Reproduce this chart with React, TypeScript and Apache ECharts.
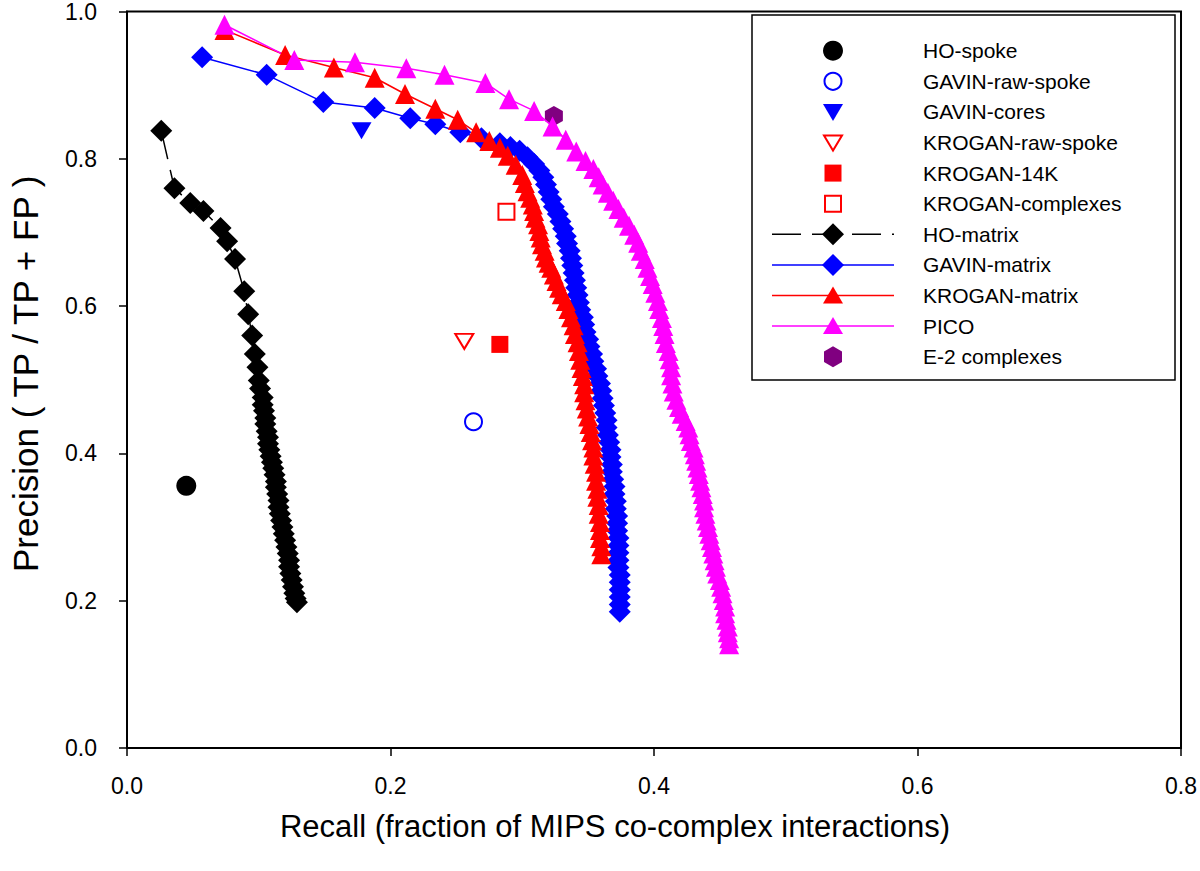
import React, { useEffect, useRef } from "react";
import * as echarts from "echarts";

// ---------- data (recall, precision) ----------
const hoSpoke: [number, number][] = [[0.045, 0.356]];
const gavinRawSpoke: [number, number][] = [[0.263, 0.443]];
const gavinCores: [number, number][] = [[0.178, 0.838]];
const kroganRawSpoke: [number, number][] = [[0.256, 0.552]];
const krogan14K: [number, number][] = [[0.283, 0.548]];
const kroganComplexes: [number, number][] = [[0.288, 0.728]];
const e2Complexes: [number, number][] = [[0.324, 0.858]];

const hoMatrix: [number, number][] = [
  [0.026, 0.838], [0.036, 0.760], [0.048, 0.740], [0.058, 0.729], [0.071, 0.706], [0.076, 0.688],
  [0.082, 0.664], [0.089, 0.620], [0.092, 0.589], [0.095, 0.560], [0.097, 0.535], [0.099, 0.517],
  [0.100, 0.499], [0.101, 0.488], [0.103, 0.476], [0.103, 0.466], [0.104, 0.458], [0.105, 0.448],
  [0.105, 0.440], [0.106, 0.430], [0.107, 0.422], [0.107, 0.413], [0.108, 0.405], [0.109, 0.396],
  [0.110, 0.388], [0.111, 0.380], [0.112, 0.371], [0.113, 0.362], [0.113, 0.354], [0.114, 0.345],
  [0.115, 0.336], [0.115, 0.327], [0.116, 0.318], [0.117, 0.309], [0.118, 0.300], [0.119, 0.291],
  [0.120, 0.282], [0.121, 0.273], [0.122, 0.264], [0.123, 0.255], [0.123, 0.246], [0.124, 0.237],
  [0.125, 0.228], [0.126, 0.219], [0.127, 0.210], [0.128, 0.203], [0.129, 0.198],
];

const gavinMatrix: [number, number][] = [
  [0.057, 0.938], [0.106, 0.914], [0.149, 0.877], [0.188, 0.869], [0.215, 0.855], [0.234, 0.847],
  [0.253, 0.836], [0.269, 0.828], [0.283, 0.821], [0.291, 0.816], [0.298, 0.811], [0.304, 0.802],
  [0.309, 0.793], [0.313, 0.784], [0.316, 0.775], [0.318, 0.765], [0.320, 0.755], [0.322, 0.745],
  [0.324, 0.735], [0.327, 0.725], [0.329, 0.715], [0.331, 0.705], [0.333, 0.695], [0.334, 0.685],
  [0.336, 0.675], [0.337, 0.665], [0.338, 0.655], [0.339, 0.645], [0.340, 0.635], [0.341, 0.625],
  [0.342, 0.615], [0.343, 0.605], [0.344, 0.595], [0.346, 0.585], [0.347, 0.575], [0.348, 0.565],
  [0.350, 0.555], [0.351, 0.545], [0.353, 0.535], [0.354, 0.525], [0.356, 0.515], [0.357, 0.505],
  [0.359, 0.495], [0.360, 0.485], [0.361, 0.475], [0.362, 0.465], [0.363, 0.455], [0.364, 0.445],
  [0.364, 0.435], [0.365, 0.425], [0.366, 0.415], [0.367, 0.405], [0.367, 0.395], [0.368, 0.385],
  [0.368, 0.375], [0.369, 0.365], [0.370, 0.355], [0.370, 0.345], [0.371, 0.335], [0.371, 0.325],
  [0.372, 0.315], [0.372, 0.305], [0.372, 0.295], [0.373, 0.285], [0.373, 0.275], [0.373, 0.265],
  [0.373, 0.255], [0.373, 0.245], [0.374, 0.235], [0.374, 0.225], [0.374, 0.215], [0.374, 0.205],
  [0.374, 0.195], [0.374, 0.185],
];

const kroganMatrix: [number, number][] = [
  [0.074, 0.975], [0.120, 0.941], [0.157, 0.924], [0.188, 0.910], [0.211, 0.888], [0.234, 0.868],
  [0.251, 0.853], [0.265, 0.836], [0.275, 0.824], [0.283, 0.815], [0.289, 0.804], [0.295, 0.792],
  [0.300, 0.778], [0.302, 0.767], [0.304, 0.756], [0.306, 0.747], [0.308, 0.738], [0.309, 0.729],
  [0.310, 0.720], [0.312, 0.711], [0.313, 0.702], [0.314, 0.693], [0.315, 0.684], [0.317, 0.675],
  [0.318, 0.666], [0.320, 0.659], [0.322, 0.652], [0.324, 0.643], [0.326, 0.634], [0.328, 0.625],
  [0.330, 0.616], [0.333, 0.607], [0.335, 0.596], [0.337, 0.585], [0.339, 0.574], [0.340, 0.562],
  [0.342, 0.551], [0.343, 0.539], [0.344, 0.527], [0.345, 0.516], [0.346, 0.505], [0.347, 0.494],
  [0.347, 0.483], [0.348, 0.472], [0.349, 0.461], [0.350, 0.450], [0.351, 0.440], [0.352, 0.429],
  [0.353, 0.418], [0.354, 0.408], [0.354, 0.397], [0.355, 0.386], [0.356, 0.375], [0.356, 0.363],
  [0.357, 0.352], [0.357, 0.341], [0.358, 0.330], [0.358, 0.318], [0.359, 0.307], [0.359, 0.296],
  [0.359, 0.285], [0.360, 0.274], [0.360, 0.263],
];

const pico: [number, number][] = [
  [0.074, 0.982], [0.127, 0.934], [0.173, 0.931], [0.212, 0.923], [0.241, 0.914], [0.272, 0.903],
  [0.290, 0.881], [0.309, 0.865], [0.323, 0.844], [0.333, 0.826], [0.341, 0.810], [0.348, 0.797],
  [0.354, 0.786], [0.358, 0.775], [0.361, 0.765], [0.365, 0.754], [0.369, 0.743], [0.373, 0.732],
  [0.377, 0.720], [0.381, 0.709], [0.385, 0.697], [0.388, 0.686], [0.390, 0.675], [0.393, 0.664],
  [0.395, 0.652], [0.397, 0.641], [0.399, 0.630], [0.401, 0.618], [0.403, 0.607], [0.404, 0.596],
  [0.406, 0.584], [0.407, 0.573], [0.408, 0.562], [0.409, 0.550], [0.411, 0.539], [0.412, 0.528],
  [0.413, 0.517], [0.413, 0.506], [0.414, 0.495], [0.415, 0.484], [0.417, 0.473], [0.419, 0.463],
  [0.421, 0.454], [0.424, 0.444], [0.426, 0.435], [0.427, 0.426], [0.428, 0.417], [0.430, 0.408],
  [0.431, 0.399], [0.432, 0.390], [0.433, 0.381], [0.434, 0.372], [0.435, 0.363], [0.436, 0.354],
  [0.437, 0.345], [0.438, 0.336], [0.438, 0.327], [0.439, 0.318], [0.440, 0.309], [0.441, 0.300],
  [0.442, 0.291], [0.443, 0.282], [0.444, 0.273], [0.445, 0.264], [0.446, 0.255], [0.447, 0.246],
  [0.448, 0.237], [0.450, 0.228], [0.451, 0.219], [0.452, 0.210], [0.453, 0.201], [0.454, 0.192],
  [0.454, 0.183], [0.455, 0.174], [0.456, 0.165], [0.456, 0.157], [0.457, 0.149], [0.457, 0.141],
];

const legendNames = [
  "HO-spoke", "GAVIN-raw-spoke", "GAVIN-cores", "KROGAN-raw-spoke", "KROGAN-14K",
  "KROGAN-complexes", "HO-matrix", "GAVIN-matrix", "KROGAN-matrix", "PICO", "E-2 complexes",
];

const xTitle = "Recall (fraction of MIPS co-complex interactions)";
const yTitle = "Precision ( TP / TP + FP )";

const BLUE = "#0000ff";
const RED = "#ff0000";
const PINK = "#ff00ff";
const PURPLE = "#800080";
const FONT = '"Liberation Sans", Arial, Helvetica, sans-serif';
const HEX = "path://M0,-10 L8.66,-5 L8.66,5 L0,10 L-8.66,5 L-8.66,-5 Z";

function legendGraphics(): any[] {
  const els: any[] = [];
  const x0 = 752, y0 = 15, w = 423, h = 365;
  els.push({ type: "rect", z: 100, shape: { x: x0, y: y0, width: w, height: h }, style: { fill: "#fff", stroke: "#000", lineWidth: 1.5 } });
  const cx = 833;
  const rowY = (i: number) => 50.7 + 30.6 * i;
  const poly = (pts: number[][], style: any) => ({ type: "polygon", z: 102, shape: { points: pts }, style });
  legendNames.forEach((name, i) => {
    const cy = rowY(i);
    els.push({
      type: "text", z: 102,
      style: { text: name, x: 923, y: cy, fill: "#000", fontSize: 21, fontFamily: FONT, align: "left", verticalAlign: "middle" },
    });
    const lineSeg = (color: string, dash?: number[]) => ({
      type: "line", z: 101,
      shape: { x1: 772, y1: cy, x2: 894, y2: cy },
      style: { stroke: color, lineWidth: 1.5, lineDash: dash },
    });
    switch (i) {
      case 0:
        els.push({ type: "circle", z: 102, shape: { cx, cy, r: 10 }, style: { fill: "#000" } });
        break;
      case 1:
        els.push({ type: "circle", z: 102, shape: { cx, cy, r: 8.5 }, style: { fill: "#fff", stroke: BLUE, lineWidth: 2 } });
        break;
      case 2:
        els.push(poly([[cx - 10, cy - 8], [cx + 10, cy - 8], [cx, cy + 9]], { fill: BLUE }));
        break;
      case 3:
        els.push(poly([[cx - 9, cy - 7], [cx + 9, cy - 7], [cx, cy + 8]], { fill: "#fff", stroke: RED, lineWidth: 2 }));
        break;
      case 4:
        els.push({ type: "rect", z: 102, shape: { x: cx - 8.5, y: cy - 8.5, width: 17, height: 17 }, style: { fill: RED } });
        break;
      case 5:
        els.push({ type: "rect", z: 102, shape: { x: cx - 8, y: cy - 8, width: 16, height: 16 }, style: { fill: "#fff", stroke: RED, lineWidth: 2 } });
        break;
      case 6:
        els.push(lineSeg("#000", [29, 11]));
        els.push(poly([[cx, cy - 11], [cx + 11, cy], [cx, cy + 11], [cx - 11, cy]], { fill: "#000" }));
        break;
      case 7:
        els.push(lineSeg(BLUE));
        els.push(poly([[cx, cy - 11], [cx + 11, cy], [cx, cy + 11], [cx - 11, cy]], { fill: BLUE }));
        break;
      case 8:
        els.push(lineSeg(RED));
        els.push(poly([[cx, cy - 9], [cx + 10, cy + 8], [cx - 10, cy + 8]], { fill: RED }));
        break;
      case 9:
        els.push(lineSeg(PINK));
        els.push(poly([[cx, cy - 9], [cx + 10, cy + 8], [cx - 10, cy + 8]], { fill: PINK }));
        break;
      case 10:
        els.push(poly([[cx, cy - 10.5], [cx + 9, cy - 5.25], [cx + 9, cy + 5.25], [cx, cy + 10.5], [cx - 9, cy + 5.25], [cx - 9, cy - 5.25]], { fill: PURPLE }));
        break;
    }
  });
  return els;
}

export default function App() {
  const ref = useRef<HTMLDivElement>(null);
  useEffect(() => {
    if (!ref.current) return;
    const chart = echarts.init(ref.current, null, { renderer: "svg" });
    const axisCommon = {
      type: "value" as const,
      axisLine: { show: true, onZero: false, lineStyle: { color: "#000", width: 2 } },
      axisTick: { show: true, inside: false, length: 8, lineStyle: { color: "#000", width: 1.5 } },
      splitLine: { show: false },
      nameLocation: "middle" as const,
    };
    const op = { opacity: 1 };
    const option: any = {
      animation: false,
      backgroundColor: "#fff",
      textStyle: { fontFamily: FONT },
      grid: { left: 126, right: 16, top: 10, bottom: 123, show: true, borderColor: "#000", borderWidth: 2, backgroundColor: "transparent" },
      xAxis: {
        ...axisCommon,
        min: 0, max: 0.8, interval: 0.2,
        axisLabel: { fontSize: 23, color: "#000", margin: 26, fontFamily: FONT, formatter: (v: number) => v.toFixed(1) },
        name: xTitle,
        nameGap: 63,
        nameTextStyle: { fontSize: 31, color: "#000", fontFamily: FONT, padding: [0, 78, 0, 0] },
      },
      yAxis: {
        ...axisCommon,
        min: 0, max: 1, interval: 0.2,
        axisLabel: { fontSize: 23, color: "#000", margin: 30, fontFamily: FONT, formatter: (v: number) => v.toFixed(1) },
        name: yTitle,
        nameGap: 84,
        nameTextStyle: { fontSize: 35, color: "#000", fontFamily: FONT, padding: [0, 0, 0, 12] },
      },
      graphic: legendGraphics(),
      series: [
        { name: "HO-spoke", type: "scatter", data: hoSpoke, symbol: "circle", symbolSize: 20, itemStyle: { color: "#000", ...op } },
        { name: "GAVIN-raw-spoke", type: "scatter", data: gavinRawSpoke, symbol: "circle", symbolSize: 17, itemStyle: { color: "#fff", borderColor: BLUE, borderWidth: 2, ...op } },
        { name: "GAVIN-cores", type: "scatter", data: gavinCores, symbol: "triangle", symbolRotate: 180, symbolSize: [20, 17], itemStyle: { color: BLUE, ...op } },
        { name: "KROGAN-raw-spoke", type: "scatter", data: kroganRawSpoke, symbol: "triangle", symbolRotate: 180, symbolSize: [18, 15], itemStyle: { color: "#fff", borderColor: RED, borderWidth: 2, ...op } },
        { name: "KROGAN-14K", type: "scatter", data: krogan14K, symbol: "rect", symbolSize: 17, itemStyle: { color: RED, ...op } },
        { name: "KROGAN-complexes", type: "scatter", data: kroganComplexes, symbol: "rect", symbolSize: 16, itemStyle: { color: "#fff", borderColor: RED, borderWidth: 2, ...op } },
        {
          name: "HO-matrix", type: "line", data: hoMatrix, symbol: "diamond", symbolSize: 22, showAllSymbol: true,
          itemStyle: { color: "#000", ...op }, lineStyle: { color: "#000", width: 1.5, type: [29, 11] },
        },
        {
          name: "GAVIN-matrix", type: "line", data: gavinMatrix, symbol: "diamond", symbolSize: 22, showAllSymbol: true,
          itemStyle: { color: BLUE, ...op }, lineStyle: { color: BLUE, width: 1.5 },
        },
        {
          name: "KROGAN-matrix", type: "line", data: kroganMatrix, symbol: "triangle", symbolSize: 20, showAllSymbol: true,
          itemStyle: { color: RED, ...op }, lineStyle: { color: RED, width: 1.5 },
        },
        {
          name: "PICO", type: "line", data: pico, symbol: "triangle", symbolSize: 20, showAllSymbol: true,
          itemStyle: { color: PINK, ...op }, lineStyle: { color: PINK, width: 1.5 },
        },
        { name: "E-2 complexes", type: "scatter", data: e2Complexes, symbol: HEX, symbolSize: [18, 20], itemStyle: { color: PURPLE, ...op } },
      ],
    };
    chart.setOption(option);
    return () => chart.dispose();
  }, []);
  return <div ref={ref} style={{ position: "fixed", left: 0, top: 0, width: 1200, height: 871, background: "#fff" }} />;
}
